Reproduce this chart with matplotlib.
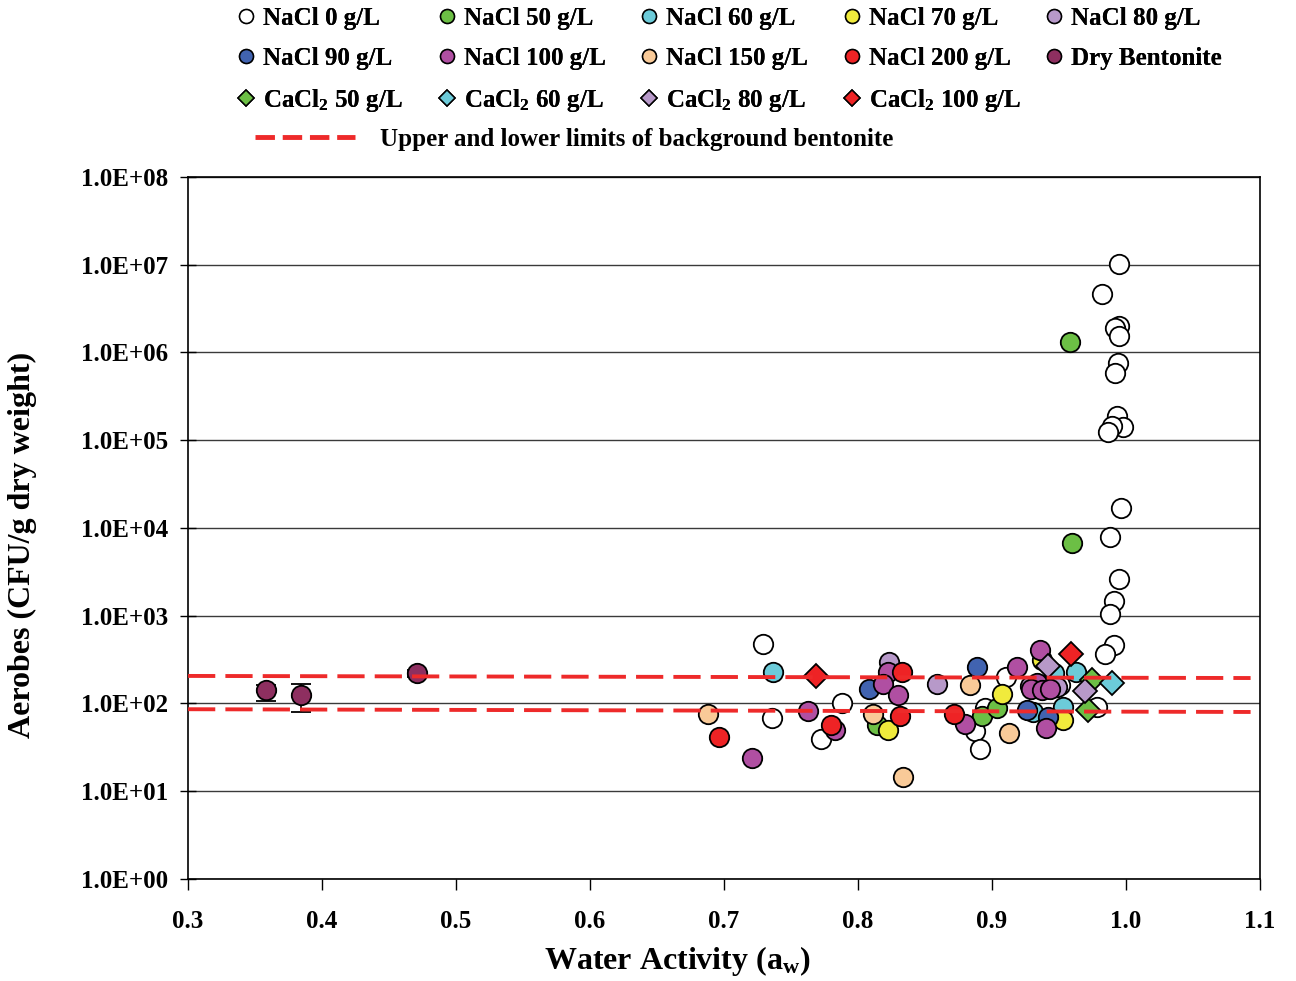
import numpy as np
import matplotlib.pyplot as plt
from matplotlib.lines import Line2D
from matplotlib.ticker import FuncFormatter, FixedLocator

plt.rcParams['font.family'] = 'Liberation Serif'
plt.rcParams['font.weight'] = 'bold'
plt.rcParams['axes.labelweight'] = 'bold'
plt.rcParams['mathtext.fontset'] = 'custom'
plt.rcParams['mathtext.rm'] = 'Liberation Serif:bold'
plt.rcParams['mathtext.it'] = 'Liberation Serif:bold'
plt.rcParams['mathtext.default'] = 'rm'

# water activity (aw) and aerobic counts (CFU/g dry weight) per treatment
nacl0_aw = [0.9948, 0.9819, 0.9948, 0.9918, 0.9948, 0.9938, 0.9918, 0.9933, 0.9975,
            0.9893, 0.9866, 0.9960, 0.9883, 0.9948, 0.9910, 0.9883, 0.9908, 0.9843,
            0.7289, 0.7356, 0.7878, 0.7721, 0.9104, 0.8948, 0.8873, 0.8910, 0.9507,
            0.9781]
nacl0_cfu = [1.02e7, 4.6e6, 2.0e6, 1.9e6, 1.56e6, 7.5e5, 5.8e5, 1.9e5, 1.42e5,
             1.45e5, 1.25e5, 1.68e4, 7.9e3, 2.6e3, 1.47e3, 1.04e3, 464, 364,
             476, 69, 100, 39, 202, 88, 48, 30, 163, 91]

nacl50_aw = [0.9582, 0.9597, 0.8139, 0.8923, 0.9039]
nacl50_cfu = [1.32e6, 6.7e3, 57, 72, 88]

nacl60_aw = [0.7366, 0.9624, 0.9308, 0.9532, 0.9463]
nacl60_cfu = [230, 230, 81, 92, 220]

nacl70_aw = [0.8221, 0.9072, 0.9370, 0.9532]
nacl70_cfu = [50, 128, 313, 65]

nacl80_aw = [0.8234, 0.8587, 0.9284, 0.9483]
nacl80_cfu = [300, 165, 160, 155]

nacl90_aw = [0.8085, 0.8890, 0.9259, 0.9420]
nacl90_cfu = [145, 262, 84, 71]

nacl100_aw = [0.7629, 0.7211, 0.7828, 0.8226, 0.8189, 0.8301, 0.8799, 0.9189,
              0.9358, 0.9333, 0.9291, 0.9370, 0.9433, 0.9400]
nacl100_cfu = [83, 24, 50, 227, 167, 125, 59, 263, 407, 173, 145, 143, 145, 52]

nacl150_aw = [0.6883, 0.8114, 0.8338, 0.8836, 0.9127]
nacl150_cfu = [75, 76, 14.4, 163, 46]

nacl200_aw = [0.6965, 0.7799, 0.8326, 0.8313, 0.8716]
nacl200_cfu = [42, 57, 230, 72, 76]

dry_aw = [0.358, 0.384, 0.471]
dry_cfu = [143, 125, 220]
dry_err_lo = [35, 45, 20]
dry_err_hi = [20, 42, 20]

cacl50_aw = [0.9744, 0.9719]
cacl50_cfu = [185, 84]
cacl60_aw = [0.9893]
cacl60_cfu = [170]
cacl80_aw = [0.9420, 0.9694]
cacl80_cfu = [267, 139]
cacl100_aw = [0.7687, 0.9590]
cacl100_cfu = [204, 367]

# background bentonite limits (start / end of each line)
limit_aw = [0.3, 1.093]
upper_limit = [206, 195]
lower_limit = [86, 80]

circle_series = [
    ('NaCl 0 g/L', nacl0_aw, nacl0_cfu, 'white'),
    ('NaCl 50 g/L', nacl50_aw, nacl50_cfu, '#6cbf45'),
    ('NaCl 60 g/L', nacl60_aw, nacl60_cfu, '#6ccbd9'),
    ('NaCl 70 g/L', nacl70_aw, nacl70_cfu, '#f0ea3c'),
    ('NaCl 80 g/L', nacl80_aw, nacl80_cfu, '#b799c9'),
    ('NaCl 90 g/L', nacl90_aw, nacl90_cfu, '#4163b0'),
    ('NaCl 100 g/L', nacl100_aw, nacl100_cfu, '#b04fa2'),
    ('NaCl 150 g/L', nacl150_aw, nacl150_cfu, '#f9ca98'),
    ('NaCl 200 g/L', nacl200_aw, nacl200_cfu, '#ee2325'),
]
diamond_series = [
    ('CaCl$_2$ 50 g/L', cacl50_aw, cacl50_cfu, '#6cbf45'),
    ('CaCl$_2$ 60 g/L', cacl60_aw, cacl60_cfu, '#6ccbd9'),
    ('CaCl$_2$ 80 g/L', cacl80_aw, cacl80_cfu, '#b799c9'),
    ('CaCl$_2$ 100 g/L', cacl100_aw, cacl100_cfu, '#ee2325'),
]
dry_color = '#8e2f60'
limit_color = '#ee2a2a'

fig = plt.figure(figsize=(12.96, 9.81), dpi=100)
ax = fig.add_axes([0.1451, 0.104, 0.8271, 0.7156])

handles = {}
for label, xs, ys, col in circle_series:
    h, = ax.plot(xs, ys, 'o', ms=14, mfc=col, mec='black', mew=1.3, zorder=3)
    handles[label] = h

eb = ax.errorbar(dry_aw, dry_cfu, yerr=[dry_err_lo, dry_err_hi], fmt='o', ms=14,
                 mfc=dry_color, mec='black', mew=1.3, ecolor='black', elinewidth=1.2,
                 capsize=7, capthick=1.2, zorder=3)
handles['Dry Bentonite'] = eb[0]

for label, xs, ys, col in diamond_series:
    h, = ax.plot(xs, ys, 'D', ms=12.5, mfc=col, mec='black', mew=1.3, zorder=4)
    handles[label] = h

ax.plot(limit_aw, upper_limit, color=limit_color, lw=2.8, dashes=(7, 2.6), zorder=5)
ax.plot(limit_aw, lower_limit, color=limit_color, lw=2.8, dashes=(7, 2.6), zorder=5)

ax.set_yscale('log')
ax.set_ylim(1, 1e8)
ax.set_xlim(0.3, 1.1)
ax.yaxis.set_major_locator(FixedLocator([10.0 ** k for k in range(9)]))
ax.yaxis.set_minor_locator(FixedLocator([]))
ax.yaxis.set_major_formatter(FuncFormatter(lambda v, p: f'{v:.1E}'))
ax.set_xticks(np.arange(0.3, 1.11, 0.1))
ax.xaxis.set_major_formatter(FuncFormatter(lambda v, p: f'{v:.1f}'))
ax.grid(True, axis='y', color='#3a3a3a', lw=1.0, zorder=0)
ax.set_axisbelow(True)
ax.tick_params(axis='x', direction='out', length=8, width=1, labelsize=18, pad=14)
ax.tick_params(axis='y', direction='inout', length=12, width=1, labelsize=18, pad=8)
for s in ax.spines.values():
    s.set_linewidth(1.2)
    s.set_color('black')

ax.set_xlabel('Water Activity (a$_w$)', fontsize=23)
ax.set_ylabel('Aerobes (CFU/g dry weight)', fontsize=23)
ax.xaxis.set_label_coords(0.456, -0.093)
ax.yaxis.set_label_coords(-0.141, 0.476)

# legend: five columns at even spacing, then the limit line on its own row
columns = [
    ['NaCl 0 g/L', 'NaCl 90 g/L', 'CaCl$_2$ 50 g/L'],
    ['NaCl 50 g/L', 'NaCl 100 g/L', 'CaCl$_2$ 60 g/L'],
    ['NaCl 60 g/L', 'NaCl 150 g/L', 'CaCl$_2$ 80 g/L'],
    ['NaCl 70 g/L', 'NaCl 200 g/L', 'CaCl$_2$ 100 g/L'],
    ['NaCl 80 g/L', 'Dry Bentonite'],
]
col_x = [0.1823, 0.3374, 0.4933, 0.6499, 0.8058]
for cx, labels in zip(col_x, columns):
    hs = []
    for lb in labels:
        h = handles[lb]
        hs.append(Line2D([], [], ls='none', marker=h.get_marker(),
                         ms=10 if h.get_marker() == 'o' else 8.5,
                         mfc=h.get_markerfacecolor(), mec='black', mew=1.1))
    leg = fig.legend(hs, labels, loc='upper left', bbox_to_anchor=(cx, 0.993),
                     frameon=False, fontsize=18, handlelength=0.78,
                     handletextpad=0.3, labelspacing=0.68, borderpad=0.0,
                     borderaxespad=0.0)
    fig.add_artist(leg)

fig.legend([Line2D([], [], color=limit_color, lw=3.5, dashes=(4, 1.6))],
           ['Upper and lower limits of background bentonite'],
           loc='upper left', bbox_to_anchor=(0.197, 0.8696), frameon=False,
           fontsize=18, handlelength=4.0, handletextpad=1.0, borderpad=0.0,
           borderaxespad=0.0)

fig.savefig('out.png', dpi=100)
